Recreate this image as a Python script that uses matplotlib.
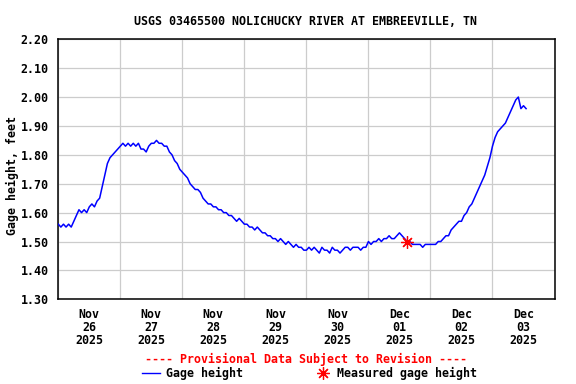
import matplotlib
matplotlib.use('Agg')
import matplotlib.pyplot as plt
import matplotlib.dates as mdates
from matplotlib.ticker import MultipleLocator, FormatStrFormatter, NullFormatter
from matplotlib.lines import Line2D
import pandas as pd

title = "USGS 03465500 NOLICHUCKY RIVER AT EMBREEVILLE, TN"
y_label = "Gage height, feet"
provisional = "---- Provisional Data Subject to Revision ----"
series_name = "Gage height"
measured_name = "Measured gage height"
start = "2025-11-26 00:00"

# hourly gage height (feet)
nov26 = [1.56, 1.55, 1.56, 1.55, 1.56, 1.55, 1.57, 1.59, 1.61, 1.60, 1.61, 1.60,
         1.62, 1.63, 1.62, 1.64, 1.65, 1.69, 1.73, 1.77, 1.79, 1.80, 1.81, 1.82]
nov27 = [1.83, 1.84, 1.83, 1.84, 1.83, 1.84, 1.83, 1.84, 1.82, 1.82, 1.81, 1.83,
         1.84, 1.84, 1.85, 1.84, 1.84, 1.83, 1.83, 1.81, 1.80, 1.78, 1.77, 1.75]
nov28 = [1.74, 1.73, 1.72, 1.70, 1.69, 1.68, 1.68, 1.67, 1.65, 1.64, 1.63, 1.63,
         1.62, 1.62, 1.61, 1.61, 1.60, 1.60, 1.59, 1.59, 1.58, 1.57, 1.58, 1.57]
nov29 = [1.56, 1.56, 1.55, 1.55, 1.54, 1.55, 1.54, 1.53, 1.53, 1.52, 1.52, 1.51,
         1.51, 1.50, 1.51, 1.50, 1.49, 1.50, 1.49, 1.48, 1.49, 1.48, 1.48, 1.47]
nov30 = [1.47, 1.48, 1.47, 1.48, 1.47, 1.46, 1.48, 1.47, 1.47, 1.46, 1.48, 1.47,
         1.47, 1.46, 1.47, 1.48, 1.48, 1.47, 1.48, 1.48, 1.48, 1.47, 1.48, 1.48]
dec01 = [1.50, 1.49, 1.50, 1.50, 1.51, 1.50, 1.51, 1.51, 1.52, 1.51, 1.51, 1.52,
         1.53, 1.52, 1.51, 1.50, 1.50, 1.49, 1.49, 1.49, 1.49, 1.48, 1.49, 1.49]
dec02 = [1.49, 1.49, 1.49, 1.50, 1.50, 1.51, 1.52, 1.52, 1.54, 1.55, 1.56, 1.57,
         1.57, 1.59, 1.60, 1.62, 1.63, 1.65, 1.67, 1.69, 1.71, 1.73, 1.76, 1.79]
dec03 = [1.83, 1.86, 1.88, 1.89, 1.90, 1.91, 1.93, 1.95, 1.97, 1.99, 2.00, 1.96,
         1.97, 1.96]

measured_time = "2025-12-01 15:00"
measured_value = 1.50

values = nov26 + nov27 + nov28 + nov29 + nov30 + dec01 + dec02 + dec03
times = pd.date_range(start, periods=len(values), freq="h")

plt.rcParams['font.family'] = ['DejaVu Sans Mono']
plt.rcParams['font.weight'] = 'bold'
plt.rcParams['font.size'] = 8.4

fig = plt.figure(figsize=(5.76, 3.84), dpi=100)
ax = fig.add_axes([0.1012, 0.2206, 0.8615, 0.6771])

ax.plot(times, values, color='#0000ff', lw=1.1, zorder=3)
ax.plot([pd.Timestamp(measured_time)], [measured_value], ls='none',
        marker=(8, 2, 0), color='red', ms=9, mew=0.9, zorder=4)

ax.set_xlim(pd.Timestamp("2025-11-26"), pd.Timestamp("2025-12-04"))
ax.set_ylim(1.30, 2.20)
ax.yaxis.set_major_locator(MultipleLocator(0.1))
ax.yaxis.set_major_formatter(FormatStrFormatter('%.2f'))
ax.xaxis.set_major_locator(mdates.DayLocator())
ax.xaxis.set_major_formatter(NullFormatter())
ax.xaxis.set_minor_locator(mdates.HourLocator(byhour=12))
ax.xaxis.set_minor_formatter(mdates.DateFormatter('%b\n%d\n%Y'))
ax.tick_params(which='both', length=0)
ax.tick_params(axis='y', pad=7)
ax.tick_params(axis='x', which='minor', pad=6)
for lab in ax.get_xticklabels(minor=True):
    lab.set_linespacing(1.02)
ax.grid(True, which='major', color='#cccccc', lw=0.9, zorder=0)
for s in ax.spines.values():
    s.set_linewidth(1.1)
    s.set_color('black')

fig.text(0.531, 0.945, title, ha='center', va='center')
fig.text(0.021, 0.544, y_label, rotation=90, ha='center', va='center')
fig.text(0.531, 0.065, provisional, ha='center', va='center', color='red')

ly = 1 - 373 / 384
fig.add_artist(Line2D([142 / 576, 160 / 576], [ly, ly], color='#0000ff', lw=1.0))
fig.text(166 / 576, ly, series_name, ha='left', va='center')
fig.add_artist(Line2D([322.7 / 576], [ly], ls='none', marker=(8, 2, 0),
                      color='red', ms=9, mew=0.9))
fig.text(336.7 / 576, ly, measured_name, ha='left', va='center')

fig.savefig("out.png", dpi=100)
